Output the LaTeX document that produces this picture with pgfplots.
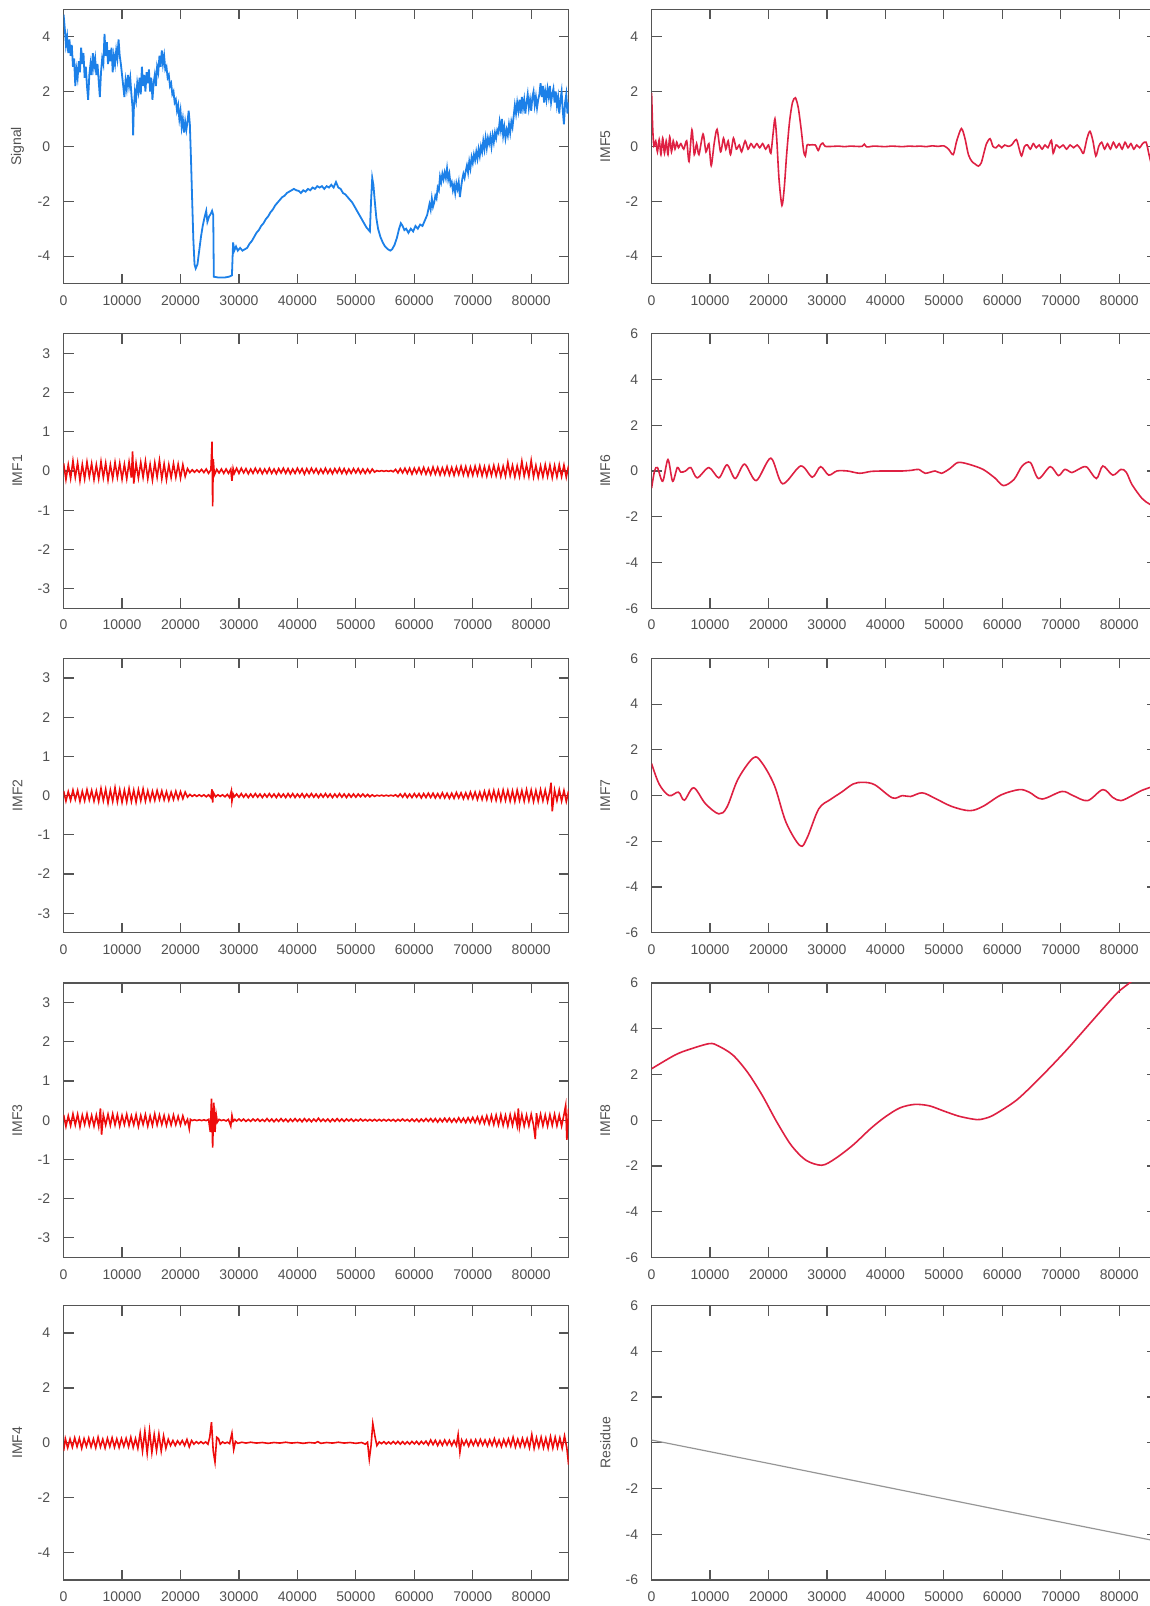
\documentclass[border=0pt]{standalone}
\usepackage{fontspec}
\setmainfont{Liberation Sans}
\usepackage{pgfplots}
\pgfplotsset{compat=1.18}
\definecolor{axgray}{RGB}{85,85,85}
\definecolor{lblgray}{RGB}{80,80,80}
\definecolor{sigblue}{RGB}{28,128,232}
\definecolor{imfred}{RGB}{238,12,12}
\definecolor{crim}{RGB}{222,32,66}
\definecolor{resgray}{RGB}{150,150,150}
\pgfplotsset{
  emd/.style={
    scale only axis, width=252.5pt, height=137.2pt,
    xmin=0, xmax=86.4,
    xtick={0,10,20,30,40,50,60,70,80},
    xticklabels={0,10000,20000,30000,40000,50000,60000,70000,80000},
    tick align=inside, major tick length=5pt,
    axis line style={draw=axgray, line width=0.6pt},
    every tick/.style={draw=axgray, line width=0.6pt},
    /pgf/number format/assume math mode=true,
    ticklabel style={font=\fontsize{7}{8}\selectfont, text=lblgray},
    yticklabel style={xshift=-3.2pt},
    xticklabel style={yshift=-2.4pt},
    ylabel style={font=\fontsize{7}{8}\selectfont, text=lblgray, at={(axis description cs:-0.0915,0.5)}, anchor=center},
    clip=true,
  },
  r5/.style={ymin=-5, ymax=5, ytick={-4,-2,0,2,4}},
  r3/.style={ymin=-3.5, ymax=3.5, ytick={-3,-2,-1,0,1,2,3}},
  r6/.style={ymin=-6, ymax=6, ytick={-6,-4,-2,0,2,4,6}},
}
\begin{document}
\begin{tikzpicture}[x=1pt,y=1pt]
\path[use as bounding box] (0,0) rectangle (575,803);
\clip (0,0) rectangle (575,803);

% ---------- Signal ----------
\begin{axis}[emd, r5, at={(31.8pt,661.2pt)}, anchor=south west, ylabel={Signal}]
\addplot[sigblue, line width=0.9pt] coordinates {
(0,4.8)(.2,4.3)(.4,3.7)(.6,4.0)(.8,3.4)(1,3.9)(1.2,3.3)(1.4,3.7)(1.6,2.9)(1.8,3.2)(2,2.2)(2.2,2.8)(2.4,2.5)(2.6,3.1)(2.8,2.7)(3,3.6)(3.2,3.0)(3.4,3.4)(3.6,2.5)(3.8,2.9)(4,2.2)(4.2,1.7)(4.4,2.6)(4.6,3.0)(4.8,2.6)(5,3.4)(5.2,2.9)(5.4,3.2)(5.6,2.6)(5.8,3.0)(6,2.4)(6.2,1.8)(6.4,2.7)(6.6,3.2)(6.8,3.0)(7,4.1)(7.2,3.3)(7.4,3.8)(7.6,3.0)(7.8,3.5)(8,3.1)(8.2,3.6)(8.4,2.7)(8.6,3.3)(8.8,3.0)(9,3.5)(9.2,3.2)(9.4,3.9)(9.6,3.3)(9.8,3.0)(10,2.6)(10.2,2.2)(10.4,1.8)(10.6,2.4)(10.8,2.1)(11,2.6)(11.2,2.2)(11.4,2.5)(11.6,1.9)(11.8,1.4)(11.9,0.4)(12,1.3)(12.2,2.0)(12.4,1.7)(12.6,2.3)(12.8,2.0)(13,2.5)(13.2,1.9)(13.4,2.9)(13.6,2.2)(13.8,2.6)(14,2.0)(14.2,2.7)(14.4,2.3)(14.6,2.8)(14.8,2.0)(15,2.5)(15.2,1.7)(15.4,2.3)(15.6,2.6)(15.8,2.2)(16,2.9)(16.2,2.7)(16.4,3.3)(16.6,2.9)(16.8,3.5)(17,3.0)(17.2,3.3)(17.4,2.8)(17.6,2.9)(17.8,2.5)(18,2.6)(18.2,2.2)(18.4,2.3)(18.6,1.9)(18.8,2.0)(19,1.6)(19.2,1.7)(19.4,1.3)(19.6,1.5)(19.8,1.0)(20,1.3)(20.2,0.7)(20.4,1.0)(20.6,0.5)(20.8,0.9)(21,0.6)(21.2,0.9)(21.4,1.3)(21.6,0.8)(21.8,-0.5)(22,-2.0)(22.2,-3.4)(22.4,-4.3)(22.6,-4.45)(22.9,-4.3)(23.2,-3.8)(23.5,-3.3)(23.8,-2.9)(24.1,-2.6)(24.4,-2.35)(24.6,-2.75)(24.9,-2.55)(25.2,-2.45)(25.4,-2.35)(25.6,-2.5)(25.7,-4.75)(26.5,-4.78)(27.5,-4.78)(28.3,-4.75)(28.8,-4.7)(29,-3.5)(29.2,-3.8)(29.5,-3.65)(29.8,-3.8)(30.2,-3.7)(30.6,-3.8)(31,-3.75)(31.4,-3.7)(31.8,-3.55)(32.2,-3.45)(32.6,-3.3)(33,-3.15)(33.4,-3.05)(33.8,-2.9)(34.2,-2.8)(34.6,-2.65)(35,-2.55)(35.4,-2.4)(35.8,-2.3)(36.2,-2.15)(36.6,-2.05)(37,-1.95)(37.4,-1.85)(37.8,-1.8)(38.2,-1.7)(38.6,-1.65)(39,-1.6)(39.4,-1.55)(39.8,-1.6)(40.2,-1.62)(40.6,-1.7)(41,-1.6)(41.4,-1.65)(41.8,-1.55)(42.2,-1.6)(42.6,-1.5)(43,-1.55)(43.4,-1.45)(43.8,-1.5)(44.2,-1.45)(44.6,-1.55)(45,-1.45)(45.4,-1.5)(45.8,-1.4)(46.2,-1.5)(46.6,-1.3)(47,-1.5)(47.4,-1.55)(47.8,-1.7)(48.2,-1.75)(48.6,-1.85)(49,-1.95)(49.4,-2.05)(49.8,-2.2)(50.2,-2.35)(50.6,-2.5)(51,-2.65)(51.4,-2.8)(51.8,-2.95)(52.2,-3.05)(52.4,-3.1)(52.6,-2.0)(52.8,-1.15)(53,-1.4)(53.2,-1.9)(53.5,-2.6)(53.8,-3.0)(54.2,-3.3)(54.6,-3.5)(55,-3.65)(55.5,-3.75)(55.9,-3.8)(56.2,-3.75)(56.6,-3.6)(57,-3.35)(57.4,-3.0)(57.7,-2.8)(58,-2.9)(58.3,-3.05)(58.6,-3.0)(59,-3.15)(59.4,-3.0)(59.8,-3.1)(60.2,-2.9)(60.6,-3.0)(61,-2.85)(61.4,-2.9)(61.8,-2.7)(62.2,-2.5)(62.6,-2.1)(62.8,-2.3)(63,-1.9)(63.2,-2.2)(63.4,-2.05)(63.6,-1.8)(63.8,-1.9)(64,-1.5)(64.2,-1.6)(64.4,-1.1)(64.6,-1.3)(64.8,-1.0)(65,-1.2)(65.2,-0.95)(65.4,-1.15)(65.6,-0.8)(65.8,-1.2)(66,-1.0)(66.2,-1.4)(66.4,-1.3)(66.6,-1.6)(66.8,-1.4)(67,-1.7)(67.2,-1.35)(67.4,-1.55)(67.6,-1.3)(67.8,-1.85)(68,-1.5)(68.2,-1.2)(68.4,-1.0)(68.6,-1.15)(68.8,-0.9)(69,-0.7)(69.2,-0.95)(69.4,-0.55)(69.6,-0.8)(69.8,-0.4)(70,-0.6)(70.2,-0.3)(70.4,-0.5)(70.6,-0.2)(70.8,-0.45)(71,-0.1)(71.2,-0.35)(71.4,0.0)(71.6,-0.2)(71.8,0.2)(72,-0.1)(72.2,0.3)(72.4,-0.05)(72.6,0.3)(72.8,0.1)(73,0.35)(73.2,0.0)(73.4,0.4)(73.6,0.15)(73.8,0.5)(74,0.3)(74.2,0.6)(74.4,0.5)(74.6,0.9)(74.8,0.6)(75,1.0)(75.2,0.4)(75.4,0.7)(75.6,0.3)(75.8,0.6)(76,0.4)(76.2,0.8)(76.4,0.5)(76.6,0.9)(76.8,0.7)(77,1.1)(77.2,1.5)(77.4,1.2)(77.6,1.6)(77.8,1.3)(78,1.7)(78.2,1.2)(78.4,1.8)(78.6,1.4)(78.8,1.7)(79,1.2)(79.2,1.6)(79.4,1.9)(79.6,1.4)(79.8,1.7)(80,1.3)(80.2,1.8)(80.4,2.0)(80.6,1.5)(80.8,1.8)(81,1.4)(81.2,1.7)(81.4,1.9)(81.6,2.3)(81.8,1.8)(82,2.2)(82.2,1.6)(82.4,2.0)(82.6,1.7)(82.8,2.1)(83,1.8)(83.2,2.2)(83.4,1.6)(83.6,1.9)(83.8,2.1)(84,1.6)(84.2,2.0)(84.4,1.5)(84.6,1.8)(84.8,1.2)(85,1.7)(85.2,2.0)(85.4,1.3)(85.6,0.8)(85.8,1.6)(86,1.9)(86.2,1.2)(86.4,1.6)};
\end{axis}

% ---------- IMF1 ----------
\begin{axis}[emd, r3, at={(31.8pt,498.9pt)}, anchor=south west, ylabel={IMF1}]
\addplot[imfred, line width=0.8pt] coordinates {
(0,.2)(.4,-.22)(.8,.16)(1.2,-.19)(1.6,.26)(2,-.16)(2.4,.21)(2.8,-.25)(3.2,.17)(3.6,-.2)(4,.23)(4.4,-.15)(4.8,.19)(5.2,-.22)(5.6,.16)(6,-.2)(6.4,.24)(6.8,-.17)(7.2,.2)(7.6,-.23)(8,.16)(8.4,-.19)(8.8,.22)(9.2,-.16)(9.6,.2)(10,-.21)(10.4,.17)(10.8,-.2)(11.2,.23)(11.6,-.17)(11.8,.5)(12,-.32)(12.4,.2)(12.8,-.18)(13.2,.22)(13.6,-.16)(14,.25)(14.4,-.2)(14.8,.17)(15.2,-.23)(15.6,.21)(16,-.16)(16.4,.27)(16.8,-.2)(17.2,.18)(17.6,-.22)(18,.16)(18.4,-.17)(18.8,.19)(19.2,-.16)(19.6,.17)(20,-.18)(20.4,.16)(20.8,-.14)(21.2,.06)(21.6,-.04)(22,.03)(22.4,-.03)(22.8,.03)(23.2,-.03)(23.6,.04)(24,-.04)(24.4,.05)(24.8,-.06)(25.2,.03)(25.4,.75)(25.5,-.9)(25.6,.3)(25.8,-.1)(26.2,.04)(26.6,-.05)(27,.05)(27.4,-.06)(27.8,.05)(28.2,-.06)(28.6,.05)(28.8,-.25)(29,.06)(29.2,-.06)(29.6,.07)(30,-.06)(30.4,.07)(30.8,-.05)(31.2,.06)(31.6,-.07)(32,.05)(32.4,-.06)(32.8,.07)(33.2,-.05)(33.6,.06)(34,-.07)(34.4,.05)(34.8,-.06)(35.2,.07)(35.6,-.06)(36,.05)(36.4,-.07)(36.8,.06)(37.2,-.05)(37.6,.07)(38,-.06)(38.4,.06)(38.8,-.07)(39.2,.05)(39.6,-.06)(40,.07)(40.4,-.05)(40.8,.06)(41.2,-.08)(41.6,.06)(42,-.06)(42.4,.07)(42.8,-.05)(43.2,.06)(43.6,-.07)(44,.05)(44.4,-.06)(44.8,.07)(45.2,-.06)(45.6,.05)(46,-.07)(46.4,.06)(46.8,-.05)(47.2,.07)(47.6,-.06)(48,.06)(48.4,-.07)(48.8,.05)(49.2,-.06)(49.6,.06)(50,-.05)(50.4,.06)(50.8,-.06)(51.2,.05)(51.6,-.06)(52,.05)(52.4,-.05)(52.8,.05)(53.2,-.03)(53.6,.01)(54,-.01)(54.4,.01)(54.8,-.01)(55.2,.01)(55.6,-.01)(56,.01)(56.4,-.02)(56.8,.04)(57.2,-.05)(57.6,.06)(58,-.05)(58.4,.07)(58.8,-.06)(59.2,.07)(59.6,-.08)(60,.07)(60.4,-.06)(60.8,.08)(61.2,-.07)(61.6,.09)(62,-.08)(62.4,.07)(62.8,-.09)(63.2,.1)(63.6,-.08)(64,.09)(64.4,-.1)(64.8,.08)(65.2,-.09)(65.6,.11)(66,-.1)(66.4,.09)(66.8,-.11)(67.2,.1)(67.6,-.09)(68,.12)(68.4,-.1)(68.8,.11)(69.2,-.12)(69.6,.1)(70,-.11)(70.4,.12)(70.8,-.1)(71.2,.13)(71.6,-.12)(72,.11)(72.4,-.13)(72.8,.12)(73.2,-.11)(73.6,.14)(74,-.12)(74.4,.13)(74.8,-.14)(75.2,.12)(75.6,-.13)(76,.22)(76.4,-.12)(76.8,.14)(77.2,-.15)(77.6,.13)(78,-.14)(78.4,.25)(78.8,-.13)(79.2,.15)(79.6,-.14)(80,.27)(80.4,-.15)(80.8,.14)(81.2,-.16)(81.6,.13)(82,-.15)(82.4,.16)(82.8,-.14)(83.2,.15)(83.6,-.17)(84,.14)(84.4,-.15)(84.8,.16)(85.2,-.14)(85.6,.15)(86,-.16)(86.4,.14)};
\end{axis}

% ---------- IMF2 ----------
\begin{axis}[emd, r3, at={(31.8pt,336.6pt)}, anchor=south west, ylabel={IMF2}]
\addplot[imfred, line width=0.8pt] coordinates {
(0,.12)(.4,-.14)(.8,.1)(1.2,-.12)(1.6,.14)(2,-.1)(2.4,.13)(2.8,-.15)(3.2,.11)(3.6,-.13)(4,.15)(4.4,-.11)(4.8,.13)(5.2,-.14)(5.6,.12)(6,-.15)(6.4,.18)(6.8,-.13)(7.2,.16)(7.6,-.19)(8,.14)(8.4,-.15)(8.8,.2)(9.2,-.16)(9.6,.15)(10,-.17)(10.4,.14)(10.8,-.16)(11.2,.18)(11.6,-.15)(12,.14)(12.4,-.17)(12.8,.15)(13.2,-.13)(13.6,.17)(14,-.14)(14.4,.12)(14.8,-.13)(15.2,.11)(15.6,-.12)(16,.13)(16.4,-.1)(16.8,.12)(17.2,-.11)(17.6,.1)(18,-.12)(18.4,.09)(18.8,-.1)(19.2,.11)(19.6,-.09)(20,.1)(20.4,-.08)(20.8,.09)(21.2,-.04)(21.6,.03)(22,-.02)(22.4,.02)(22.8,-.02)(23.2,.02)(23.6,-.02)(24,.02)(24.4,-.03)(24.8,.02)(25.2,-.05)(25.4,.16)(25.5,-.18)(25.6,.08)(26,-.03)(26.4,.02)(26.8,-.02)(27.2,.02)(27.6,-.03)(28,.03)(28.4,-.05)(28.7,.12)(28.8,-.14)(29,.04)(29.2,-.03)(29.6,.04)(30,-.04)(30.4,.05)(30.8,-.04)(31.2,.04)(31.6,-.05)(32,.04)(32.4,-.04)(32.8,.05)(33.2,-.04)(33.6,.04)(34,-.05)(34.4,.04)(34.8,-.04)(35.2,.05)(35.6,-.04)(36,.04)(36.4,-.05)(36.8,.05)(37.2,-.04)(37.6,.04)(38,-.05)(38.4,.05)(38.8,-.04)(39.2,.05)(39.6,-.05)(40,.04)(40.4,-.04)(40.8,.05)(41.2,-.05)(41.6,.04)(42,-.04)(42.4,.05)(42.8,-.04)(43.2,.04)(43.6,-.05)(44,.04)(44.4,-.04)(44.8,.05)(45.2,-.04)(45.6,.04)(46,-.05)(46.4,.04)(46.8,-.04)(47.2,.05)(47.6,-.04)(48,.04)(48.4,-.05)(48.8,.04)(49.2,-.04)(49.6,.04)(50,-.04)(50.4,.04)(50.8,-.03)(51.2,.04)(51.6,-.03)(52,.03)(52.4,-.03)(52.8,.02)(53.2,-.02)(53.6,.01)(54,-.01)(54.4,.01)(54.8,-.01)(55.2,.01)(55.6,-.01)(56,.01)(56.4,-.01)(56.8,.02)(57.2,-.03)(57.6,.04)(58,-.04)(58.4,.05)(58.8,-.05)(59.2,.04)(59.6,-.05)(60,.05)(60.4,-.04)(60.8,.05)(61.2,-.06)(61.6,.05)(62,-.05)(62.4,.06)(62.8,-.05)(63.2,.06)(63.6,-.06)(64,.05)(64.4,-.06)(64.8,.07)(65.2,-.06)(65.6,.06)(66,-.07)(66.4,.06)(66.8,-.07)(67.2,.08)(67.6,-.06)(68,.07)(68.4,-.08)(68.8,.07)(69.2,-.08)(69.6,.09)(70,-.08)(70.4,.09)(70.8,-.1)(71.2,.09)(71.6,-.1)(72,.11)(72.4,-.1)(72.8,.12)(73.2,-.11)(73.6,.13)(74,-.12)(74.4,.12)(74.8,-.13)(75.2,.14)(75.6,-.12)(76,.13)(76.4,-.14)(76.8,.12)(77.2,-.15)(77.6,.14)(78,-.12)(78.4,.13)(78.8,-.14)(79.2,.15)(79.6,-.13)(80,.14)(80.4,-.15)(80.8,.13)(81.2,-.14)(81.6,.15)(82,-.13)(82.4,.14)(82.8,-.15)(83.2,.13)(83.4,.33)(83.6,-.4)(84,.14)(84.4,-.13)(84.8,.15)(85.2,-.14)(85.6,.13)(86,-.15)(86.4,.12)};
\end{axis}

% ---------- IMF3 ----------
\begin{axis}[emd, r3, at={(31.8pt,174.3pt)}, anchor=south west, ylabel={IMF3}]
\addplot[imfred, line width=0.8pt] coordinates {
(0,.14)(.4,-.16)(.8,.11)(1.2,-.14)(1.6,.16)(2,-.12)(2.4,.15)(2.8,-.17)(3.2,.13)(3.6,-.11)(4,.16)(4.4,-.13)(4.8,.12)(5.2,-.15)(5.6,.13)(6,-.16)(6.3,.3)(6.5,-.37)(6.8,.14)(7.2,-.12)(7.6,.15)(8,-.13)(8.4,.16)(8.8,-.12)(9.2,.14)(9.6,-.15)(10,.12)(10.4,-.11)(10.8,.15)(11.2,-.13)(11.6,.11)(12,-.12)(12.4,.14)(12.8,-.16)(13.2,.12)(13.6,-.11)(14,.14)(14.4,-.15)(14.8,.11)(15.2,-.13)(15.6,.16)(16,-.12)(16.4,.13)(16.8,-.11)(17.2,.12)(17.6,-.13)(18,.11)(18.4,-.12)(18.8,.13)(19.2,-.11)(19.6,.1)(20,-.12)(20.4,.11)(20.8,-.1)(21.2,.02)(21.5,-.22)(21.7,.02)(22,-.01)(22.4,.01)(22.8,-.01)(23.2,.01)(23.6,-.01)(24,.01)(24.4,-.01)(24.8,.02)(25.1,-.3)(25.3,.55)(25.5,-.7)(25.7,.45)(25.9,-.3)(26.1,.15)(26.3,-.05)(26.6,.02)(27,-.01)(27.4,.01)(27.8,-.02)(28.2,.02)(28.6,-.15)(28.8,.12)(29,-.03)(29.3,.02)(29.6,-.02)(30,.03)(30.4,-.02)(30.8,.03)(31.2,-.03)(31.6,.02)(32,-.03)(32.4,.03)(32.8,-.02)(33.2,.03)(33.6,-.03)(34,.02)(34.4,-.03)(34.8,.04)(35.2,-.03)(35.6,.03)(36,-.04)(36.4,.03)(36.8,-.03)(37.2,.04)(37.6,-.03)(38,.03)(38.4,-.04)(38.8,.03)(39.2,-.03)(39.6,.04)(40,-.03)(40.4,.03)(40.8,-.04)(41.2,.04)(41.6,-.03)(42,.03)(42.4,-.04)(42.8,.03)(43.2,-.03)(43.6,.05)(44,-.03)(44.4,.03)(44.8,-.03)(45.2,.03)(45.6,-.04)(46,.03)(46.4,-.03)(46.8,.04)(47.2,-.03)(47.6,.03)(48,-.03)(48.4,.03)(48.8,-.02)(49.2,.03)(49.6,-.03)(50,.02)(50.4,-.02)(50.8,.03)(51.2,-.02)(51.6,.02)(52,-.02)(52.4,.02)(52.8,-.02)(53.2,.02)(53.6,-.02)(54,.02)(54.4,-.02)(54.8,.02)(55.2,-.02)(55.6,.02)(56,-.02)(56.4,.02)(56.8,-.03)(57.2,.02)(57.6,-.02)(58,.03)(58.4,-.02)(58.8,.02)(59.2,-.03)(59.6,.03)(60,-.03)(60.4,.03)(60.8,-.04)(61.2,.03)(61.6,-.03)(62,.04)(62.4,-.03)(62.8,.04)(63.2,-.04)(63.6,.04)(64,-.05)(64.4,.04)(64.8,-.04)(65.2,.05)(65.6,-.04)(66,.05)(66.4,-.05)(66.8,.04)(67.2,-.05)(67.6,.06)(68,-.05)(68.4,.05)(68.8,-.06)(69.2,.06)(69.6,-.05)(70,.07)(70.4,-.06)(70.8,.08)(71.2,-.08)(71.6,.09)(72,-.08)(72.4,.11)(72.8,-.1)(73.2,.12)(73.6,-.11)(74,.13)(74.4,-.12)(74.8,.14)(75.2,-.13)(75.6,.12)(76,-.15)(76.4,.14)(76.8,-.13)(77.2,.15)(77.6,-.14)(77.8,.3)(78,-.18)(78.4,.14)(78.8,-.15)(79.2,.13)(79.6,-.14)(80,.15)(80.4,-.13)(80.7,-.48)(80.9,.18)(81.2,-.13)(81.6,.15)(82,-.14)(82.4,.13)(82.8,-.15)(83.2,.14)(83.6,-.13)(84,.15)(84.4,-.14)(84.8,.13)(85.2,-.15)(85.6,.14)(85.9,.38)(86.1,-.5)(86.4,.3)};
\end{axis}

% ---------- IMF4 ----------
\begin{axis}[emd, r5, at={(31.8pt,13.0pt)}, anchor=south west, ylabel={IMF4}]
\addplot[imfred, line width=0.8pt] coordinates {
(0,-.3)(.3,.15)(.7,-.18)(1.1,.14)(1.5,-.16)(1.9,.18)(2.3,-.14)(2.7,.16)(3.1,-.2)(3.5,.15)(3.9,-.13)(4.3,.17)(4.7,-.15)(5.1,.14)(5.5,-.18)(5.9,.2)(6.3,-.15)(6.7,.13)(7.1,-.19)(7.5,.16)(7.9,-.14)(8.3,.18)(8.7,-.16)(9.1,.14)(9.5,-.17)(9.9,.15)(10.3,-.13)(10.7,.16)(11.1,-.15)(11.5,.2)(11.9,-.18)(12.3,.15)(12.7,-.2)(13.1,.35)(13.5,-.3)(13.9,.42)(14.3,-.38)(14.7,.45)(15.1,-.35)(15.5,.3)(15.9,-.28)(16.3,.32)(16.7,-.3)(17.1,.25)(17.5,-.2)(17.9,.12)(18.3,-.1)(18.7,.08)(19.1,-.1)(19.5,.07)(19.9,-.06)(20.3,.08)(20.7,-.1)(21.1,.12)(21.5,-.15)(21.9,.08)(22.3,-.05)(22.7,.04)(23.1,-.03)(23.5,.04)(23.9,-.03)(24.3,.03)(24.7,-.05)(25,.2)(25.3,.75)(25.6,-.3)(25.9,-.7)(26.2,.2)(26.5,.15)(26.8,-.05)(27.2,.03)(27.6,-.02)(28,.02)(28.4,-.03)(28.8,.35)(29.1,-.25)(29.4,.05)(29.8,-.02)(30.5,.02)(31.2,-.01)(32,.02)(33,-.01)(34,.01)(35,-.02)(36,.01)(37,-.01)(38,.02)(39,-.01)(40,.01)(41,-.02)(42,.01)(43,-.01)(43.5,.04)(44,-.02)(45,.01)(46,-.01)(47,.02)(48,-.01)(49,.01)(50,-.02)(51,.01)(51.6,-.05)(52,.02)(52.3,-.6)(52.6,-.1)(52.9,.7)(53.3,.2)(53.6,-.1)(54,.03)(54.4,-.03)(54.8,.04)(55.2,-.04)(55.6,.03)(56,-.04)(56.4,.05)(56.8,-.04)(57.2,.05)(57.6,-.05)(58,.04)(58.4,-.05)(58.8,.04)(59.2,-.05)(59.6,.05)(60,-.04)(60.4,.05)(60.8,-.06)(61.2,.05)(61.6,-.04)(62,.06)(62.4,-.08)(62.8,.1)(63.2,-.07)(63.6,.09)(64,-.1)(64.4,.08)(64.8,-.09)(65.2,.1)(65.6,-.08)(66,.09)(66.4,-.1)(66.8,.08)(67.2,-.1)(67.5,.3)(67.8,-.35)(68.1,.1)(68.5,-.08)(68.9,.1)(69.3,-.12)(69.7,.1)(70.1,-.09)(70.5,.11)(70.9,-.1)(71.3,.12)(71.7,-.09)(72.1,.1)(72.5,-.12)(72.9,.11)(73.3,-.1)(73.7,.15)(74.1,-.12)(74.5,.1)(74.9,-.14)(75.3,.12)(75.7,-.11)(76.1,.14)(76.5,-.12)(76.9,.2)(77.3,-.15)(77.7,.13)(78.1,-.14)(78.5,.16)(78.9,-.13)(79.3,.15)(79.7,-.18)(80.1,.3)(80.5,-.2)(80.9,.18)(81.3,-.16)(81.7,.2)(82.1,-.18)(82.5,.17)(82.9,-.2)(83.3,.22)(83.7,-.19)(84.1,.2)(84.5,-.17)(84.9,.18)(85.3,-.2)(85.7,.25)(86.1,-.2)(86.4,-.8)};
\end{axis}

% ---------- IMF5 ----------
\begin{axis}[emd, r5, at={(325.8pt,661.2pt)}, anchor=south west, ylabel={IMF5}]
\addplot[crim, line width=0.8pt, smooth, tension=0.45] coordinates {
(0,1.95)(.2,.6)(.4,0)(.7,.2)(1,-.2)(1.3,.25)(1.6,-.3)(1.9,.3)(2.2,-.25)(2.5,.2)(2.8,-.3)(3.1,.35)(3.4,-.2)(3.7,.2)(4,-.1)(4.3,.15)(4.6,-.05)(5,.1)(5.5,-.1)(6,.2)(6.4,-.55)(6.9,.6)(7.3,-.3)(7.7,.1)(8.1,-.3)(8.8,.45)(9.3,-.2)(9.8,.1)(10.2,-.7)(10.7,.1)(11.2,.62)(11.8,-.2)(12.3,.3)(12.7,-.1)(13.1,.2)(13.5,-.3)(14,.3)(14.5,-.1)(15,.05)(15.4,-.2)(16,.2)(16.5,-.1)(17,.1)(17.5,-.05)(18,.1)(18.5,-.05)(19,.1)(19.5,-.1)(20,.05)(20.4,-.25)(20.8,.5)(21.1,1.0)(21.4,.3)(21.8,-1.2)(22.3,-2.15)(22.7,-1.5)(23.1,-.3)(23.6,.9)(24.1,1.6)(24.6,1.77)(25.1,1.4)(25.6,.6)(26,-.15)(26.3,-.35)(26.6,.05)(27,.05)(28,.05)(28.5,-.15)(28.9,.05)(29.3,.12)(29.7,0)(31,0)(32,.01)(33,-.01)(34,.01)(35,0)(36,0)(36.4,.08)(36.8,-.02)(38,.01)(39,0)(40,-.01)(41,.01)(42,0)(43,-.01)(44,.01)(45,0)(46,.01)(47,-.01)(48,.02)(49,0)(50,.02)(50.8,-.1)(51.6,-.3)(52.2,.2)(53,.65)(53.6,.3)(54.2,-.3)(54.8,-.55)(55.4,-.65)(55.9,-.72)(56.4,-.6)(56.9,-.2)(57.3,.1)(57.9,.28)(58.4,0)(58.9,-.05)(59.4,.05)(59.9,-.05)(60.4,.05)(61,0)(61.6,.05)(62.4,.25)(62.9,-.1)(63.3,-.35)(63.8,.0)(64.3,.05)(64.8,-.1)(65.3,.1)(65.8,-.05)(66.3,.05)(66.8,-.1)(67.3,.05)(67.8,-.05)(68.4,.22)(68.7,-.25)(69.2,.05)(69.8,-.05)(70.4,.05)(71,-.1)(71.6,.05)(72.2,-.05)(72.8,.05)(73.4,-.1)(73.9,-.25)(74.5,.3)(75,.55)(75.5,.2)(76,-.35)(76.5,0)(77,.15)(77.5,-.1)(78,.1)(78.5,-.1)(79,.15)(79.5,-.05)(80,.1)(80.5,-.1)(81,.15)(81.5,-.05)(82,.1)(82.5,-.1)(83,.05)(83.5,-.05)(84,.1)(84.6,.15)(85.1,-.3)(85.5,-.65)(86,-.9)(86.4,-1.0)};
\end{axis}

% ---------- IMF6 ----------
\begin{axis}[emd, r6, at={(325.8pt,498.9pt)}, anchor=south west, ylabel={IMF6}]
\addplot[crim, line width=0.8pt, smooth, tension=0.5] coordinates {
(0,-.75)(.5,0)(1,.15)(1.9,-.45)(2.8,.5)(3.6,-.45)(4.4,.15)(5,-.05)(5.8,0)(6.7,.15)(7.8,-.3)(9.8,.15)(11.5,-.3)(12.9,.27)(14.3,-.33)(15.9,.3)(17.9,-.42)(20.4,.56)(22.4,-.56)(25.5,.22)(27.5,-.27)(28.9,.19)(30.3,-.18)(31.7,0)(33.5,0)(35.6,-.1)(37.5,-.02)(39.5,0)(41.5,0)(42.9,0)(44.5,.03)(45.7,.07)(46.8,-.1)(48.5,0)(49.6,-.1)(51,.1)(52.4,.37)(54.2,.3)(56.7,.07)(58.7,-.3)(60.2,-.64)(62,-.37)(63.4,.22)(64.8,.37)(66.2,-.33)(68.2,.19)(69.6,-.2)(70.7,.07)(71.9,-.07)(73,.07)(74.4,.18)(76.1,-.33)(77.2,.22)(78.9,-.18)(80.3,.07)(81.2,-.05)(82.2,-.6)(83.9,-1.2)(85.2,-1.45)(86.4,-1.6)};
\end{axis}

% ---------- IMF7 ----------
\begin{axis}[emd, r6, at={(325.8pt,336.6pt)}, anchor=south west, ylabel={IMF7}]
\addplot[crim, line width=0.8pt, smooth, tension=0.55] coordinates {
(0,1.4)(1.3,.5)(3,0)(4.6,.15)(5.6,-.2)(7.2,.34)(9.2,-.35)(11.5,-.8)(12.9,-.5)(14.8,.73)(17.4,1.65)(18.8,1.46)(21,.45)(23,-1.17)(25.4,-2.19)(26.6,-1.85)(28.6,-.58)(30.6,-.17)(32.5,.15)(34.5,.51)(36.2,.58)(38.2,.47)(41.2,-.1)(42.9,0)(44.3,-.04)(46.3,.12)(48.5,-.12)(51.3,-.47)(54.4,-.66)(56.7,-.47)(59.8,.03)(62.9,.26)(64.6,.15)(66.8,-.15)(70.2,.18)(72.1,0)(74.6,-.22)(77.2,.26)(78.9,-.08)(80.3,-.22)(82.2,0)(83.9,.23)(86.4,.45)};
\end{axis}

% ---------- IMF8 ----------
\begin{axis}[emd, r6, at={(325.8pt,174.3pt)}, anchor=south west, ylabel={IMF8}]
\addplot[crim, line width=0.8pt, smooth] coordinates {
(0,2.25)(4,2.85)(6.5,3.1)(9.9,3.35)(11.4,3.25)(13.9,2.85)(16.4,2.1)(18.9,1.1)(21.4,-.07)(23.9,-1.1)(26.4,-1.75)(29.1,-1.97)(31.3,-1.7)(34.4,-1.1)(37.5,-.36)(40,.15)(42.5,.54)(45,.69)(47.5,.63)(50,.4)(52.5,.18)(54.9,.05)(56.2,.03)(58,.16)(59.9,.44)(62.4,.87)(64.9,1.46)(68,2.26)(71.1,3.1)(74.2,4.0)(77.3,4.9)(79.8,5.6)(82,6.05)(84,6.5)(86.4,7.0)};
\end{axis}

% ---------- Residue ----------
\begin{axis}[emd, r6, at={(325.8pt,13.0pt)}, anchor=south west, ylabel={Residue}]
\addplot[resgray, line width=0.6pt] coordinates {
(0,.12)(20,-.9)(40,-1.93)(60,-2.96)(86.4,-4.3)};
\end{axis}
\end{tikzpicture}
\end{document}
